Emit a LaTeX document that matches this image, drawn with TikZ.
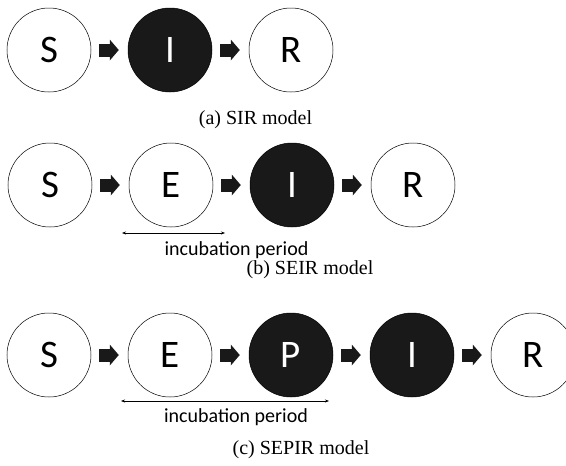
\documentclass[tikz,border=0pt]{standalone}
\usepackage{fontspec}
\setmainfont{Liberation Serif}
\newfontfamily\calibfont{Carlito}
\usetikzlibrary{positioning,arrows.meta}

\tikzset{
    comp/.style={circle, draw, line width=0.5pt, minimum size=84pt, inner sep=0pt,
        font=\calibfont\fontsize{39}{39}\selectfont},
    infected/.style={comp, fill=black!90, text=white},
    flow/.style={black!90, line width=13pt, -{Triangle[length=9pt,width=21pt,line width=0pt]}},
    span/.style={line width=0.6pt, {Stealth[length=4pt,width=3pt]}-{Stealth[length=4pt,width=3pt]}},
    inctext/.style={anchor=base, font=\calibfont\fontsize{20}{20}\selectfont},
    caption/.style={anchor=base, font=\fontsize{20}{20}\selectfont},
}

\begin{document}
\begin{tikzpicture}[x=1pt, y=-1pt]
    \useasboundingbox (0,0) rectangle (566,466);

    % (a) SIR
    \node[comp] (Sa) at (49,50) {S};
    \node[infected, right=36.5pt of Sa] (Ia) {I};
    \node[comp, right=36.5pt of Ia] (Ra) {R};
    \draw[flow] ([xshift=8pt]Sa.east) -- ([xshift=-9pt]Ia.west);
    \draw[flow] ([xshift=8pt]Ia.east) -- ([xshift=-9pt]Ra.west);
    \node[caption] (capa) at (255.5,124) {(a) SIR model};

    % (b) SEIR
    \node[comp] (Sb) at (50,185) {S};
    \node[comp, right=36.5pt of Sb] (Eb) {E};
    \node[infected, right=36.5pt of Eb] (Ib) {I};
    \node[comp, right=36.5pt of Ib] (Rb) {R};
    \draw[flow] ([xshift=8pt]Sb.east) -- ([xshift=-9pt]Eb.west);
    \draw[flow] ([xshift=8pt]Eb.east) -- ([xshift=-9pt]Ib.west);
    \draw[flow] ([xshift=8pt]Ib.east) -- ([xshift=-9pt]Rb.west);
    \coordinate (incb1) at (122,233);
    \coordinate (incb2) at (225,233);
    \draw[span] (incb1) -- (incb2);
    \node[inctext] (incbtext) at (236.5,255) {incubation period};
    \node[caption] (capb) at (310,274) {(b) SEIR model};

    % (c) SEPIR
    \node[comp] (Sc) at (49,355) {S};
    \node[comp, right=36.5pt of Sc] (Ec) {E};
    \node[infected, right=36.5pt of Ec] (Pc) {P};
    \node[infected, right=36.5pt of Pc] (Ic) {I};
    \node[comp, right=36.5pt of Ic] (Rc) {R};
    \draw[flow] ([xshift=8pt]Sc.east) -- ([xshift=-9pt]Ec.west);
    \draw[flow] ([xshift=8pt]Ec.east) -- ([xshift=-9pt]Pc.west);
    \draw[flow] ([xshift=8pt]Pc.east) -- ([xshift=-9pt]Ic.west);
    \draw[flow] ([xshift=8pt]Ic.east) -- ([xshift=-9pt]Rc.west);
    \coordinate (incc1) at (121,401);
    \coordinate (incc2) at (329,401);
    \draw[span] (incc1) -- (incc2);
    \node[inctext] (incctext) at (236,422) {incubation period};
    \node[caption] (capc) at (301,454) {(c) SEPIR model};
\end{tikzpicture}
\end{document}
